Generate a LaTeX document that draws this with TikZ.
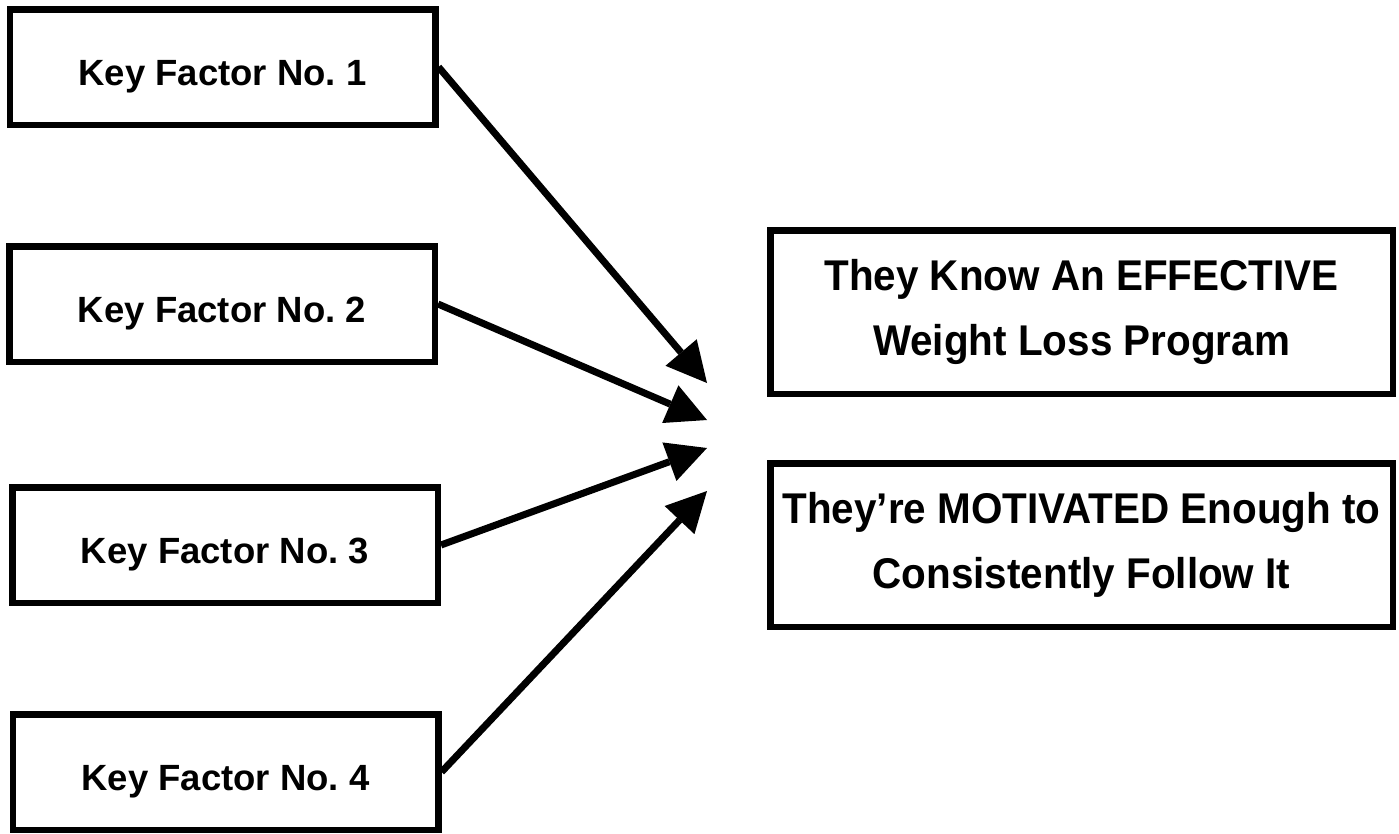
\documentclass[tikz,border=0pt]{standalone}
\usepackage{fontspec}
\setmainfont{Liberation Sans}
% slightly narrowed face for the two outcome boxes
\newfontfamily\resultfont[FakeStretch=0.94]{Liberation Sans}
\usetikzlibrary{arrows.meta}

\begin{document}
\begin{tikzpicture}[x=1pt, y=-1pt,
  factorbox/.style={draw, line width=6.5pt, minimum width=425.5pt,
    minimum height=115.5pt, inner sep=0pt,
    font=\bfseries\fontsize{36.5}{44}\selectfont,
    text height=36pt, text depth=0pt},
  resultbox/.style={draw, line width=6.5pt, minimum width=622.5pt,
    minimum height=163.5pt, inner sep=0pt, align=center,
    font=\resultfont\bfseries\fontsize{43}{65}\selectfont},
  link/.style={line width=7pt,
    -{Triangle[length=40pt, width=41pt, line width=0pt]}}]
  \useasboundingbox (0,0) rectangle (1399,833);

  % four key factors on the left
  \node[factorbox] (k1) at (222.5,67)  {Key Factor No.\ 1};
  \node[factorbox] (k2) at (222,304)   {Key Factor No.\ 2};
  \node[factorbox] (k3) at (225,545)   {Key Factor No.\ 3};
  \node[factorbox] (k4) at (225.5,772) {Key Factor No.\ 4};

  % the two outcomes on the right
  \node[resultbox] (r1) at (1081.5,312) {They Know An EFFECTIVE\\Weight Loss Program};
  \node[resultbox] (r2) at (1081.5,545) {They’re MOTIVATED Enough to\\Consistently Follow It};

  % arrow end points, converging between the columns
  \coordinate (t1) at (707,383);
  \coordinate (t2) at (707,420);
  \coordinate (t3) at (707,448);
  \coordinate (t4) at (707,491);

  \draw[link] (k1.east) -- (t1);
  \draw[link] (k2.east) -- (t2);
  \draw[link] (k3.east) -- (t3);
  \draw[link] (k4.east) -- (t4);
\end{tikzpicture}
\end{document}
